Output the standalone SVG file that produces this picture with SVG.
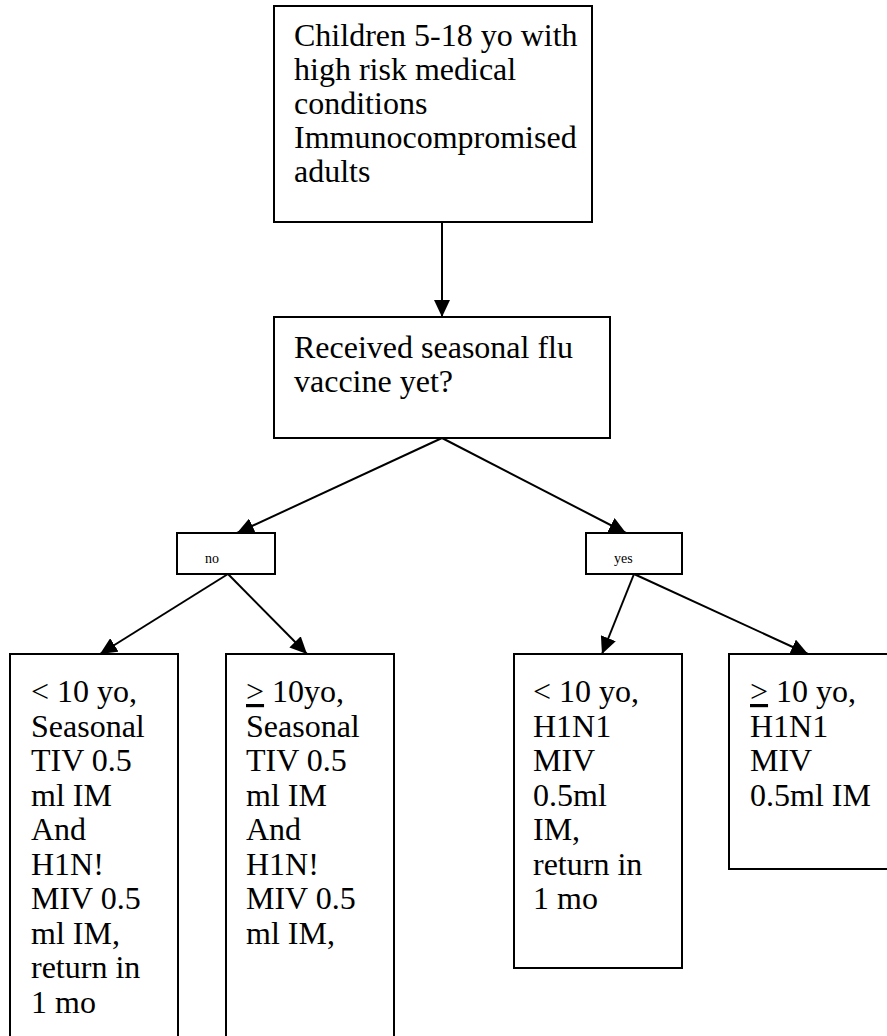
<svg xmlns="http://www.w3.org/2000/svg" width="887" height="1036" viewBox="0 0 887 1036">
<style>
.box{fill:#fff;stroke:#000;stroke-width:2}
.t{font-family:'Liberation Serif','Times New Roman',serif;font-size:32px;fill:#000}
.s{font-family:'Liberation Serif','Times New Roman',serif;font-size:14px;fill:#000}
.c{stroke:#000;stroke-width:2;fill:none;marker-end:url(#ah)}
</style>
<defs>
<marker id="ah" markerUnits="userSpaceOnUse" markerWidth="18" markerHeight="16" refX="17" refY="8" orient="auto">
<path d="M0,0 L17,8 L0,16 z" fill="#000"/>
</marker>
</defs>
<g id="connectors">
<line class="c" x1="442" y1="222" x2="442" y2="317"/>
<line class="c" x1="442" y1="438" x2="237" y2="533"/>
<line class="c" x1="442" y1="438" x2="626" y2="533"/>
<line class="c" x1="228" y1="574" x2="100" y2="654"/>
<line class="c" x1="228" y1="574" x2="307" y2="654"/>
<line class="c" x1="634" y1="574" x2="602" y2="654"/>
<line class="c" x1="634" y1="574" x2="808" y2="654"/>
</g>
<g id="n1">
<rect class="box" x="274" y="6" width="318" height="216"/>
<text class="t" x="294" y="46">Children 5-18 yo with</text>
<text class="t" x="294" y="80">high risk medical</text>
<text class="t" x="294" y="114">conditions</text>
<text class="t" x="294" y="148">Immunocompromised</text>
<text class="t" x="294" y="182">adults</text>
</g>
<g id="n2">
<rect class="box" x="274" y="317" width="336" height="121"/>
<text class="t" x="294" y="358">Received seasonal flu</text>
<text class="t" x="294" y="392">vaccine yet?</text>
</g>
<g id="no">
<rect class="box" x="177" y="533" width="98" height="41"/>
<text class="s" x="205" y="563">no</text>
</g>
<g id="yes">
<rect class="box" x="586" y="533" width="96" height="41"/>
<text class="s" x="614" y="563">yes</text>
</g>
<g id="b1">
<rect class="box" x="10" y="654" width="168" height="400"/>
<text class="t" x="31" y="702">&lt; 10 yo,</text>
<text class="t" x="31" y="736.5">Seasonal</text>
<text class="t" x="31" y="771">TIV 0.5</text>
<text class="t" x="31" y="805.5">ml IM</text>
<text class="t" x="31" y="840">And</text>
<text class="t" x="31" y="874.5">H1N!</text>
<text class="t" x="31" y="909">MIV 0.5</text>
<text class="t" x="31" y="943.5">ml IM,</text>
<text class="t" x="31" y="978">return in</text>
<text class="t" x="31" y="1012.5">1 mo</text>
</g>
<g id="b2">
<rect class="box" x="226" y="654" width="168" height="400"/>
<text class="t" x="246" y="702"><tspan text-decoration="underline">&gt;</tspan> 10yo,</text>
<text class="t" x="246" y="736.5">Seasonal</text>
<text class="t" x="246" y="771">TIV 0.5</text>
<text class="t" x="246" y="805.5">ml IM</text>
<text class="t" x="246" y="840">And</text>
<text class="t" x="246" y="874.5">H1N!</text>
<text class="t" x="246" y="909">MIV 0.5</text>
<text class="t" x="246" y="943.5">ml IM,</text>
</g>
<g id="b3">
<rect class="box" x="514" y="654" width="168" height="314"/>
<text class="t" x="533" y="702">&lt; 10 yo,</text>
<text class="t" x="533" y="736.5">H1N1</text>
<text class="t" x="533" y="771">MIV</text>
<text class="t" x="533" y="805.5">0.5ml</text>
<text class="t" x="533" y="840">IM,</text>
<text class="t" x="533" y="874.5">return in</text>
<text class="t" x="533" y="909">1 mo</text>
</g>
<g id="b4">
<rect class="box" x="729" y="654" width="180" height="215"/>
<text class="t" x="750" y="702"><tspan text-decoration="underline">&gt;</tspan> 10 yo,</text>
<text class="t" x="750" y="736.5">H1N1</text>
<text class="t" x="750" y="771">MIV</text>
<text class="t" x="750" y="805.5">0.5ml IM</text>
</g>
</svg>
